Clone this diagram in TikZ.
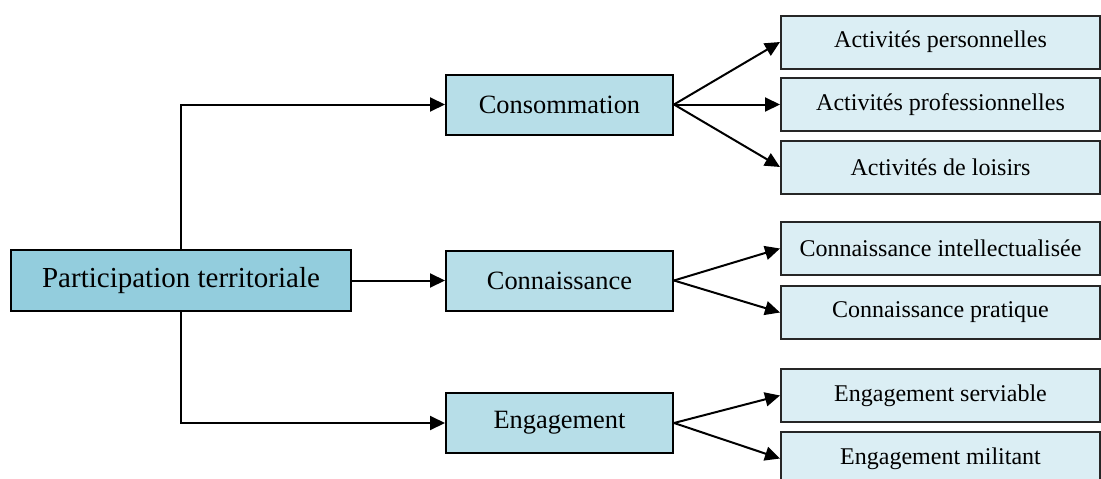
\documentclass[tikz,border=0pt]{standalone}
\usepackage{fontspec}
\setmainfont{Liberation Serif}
\usetikzlibrary{arrows.meta}
\definecolor{cMain}{HTML}{93CDDD}
\definecolor{cMid}{HTML}{B7DEE8}
\definecolor{cLeaf}{HTML}{DBEEF4}
\tikzset{
  mainbox/.style={draw=black, line width=2pt, fill=cMain, minimum width=340pt, minimum height=61pt, inner sep=0pt, font=\fontsize{29}{32}\selectfont},
  midbox/.style={draw=black, line width=2pt, fill=cMid, minimum width=227pt, minimum height=60pt, inner sep=0pt, font=\fontsize{26.4}{30}\selectfont},
  leafbox/.style={draw=black!85, line width=2pt, fill=cLeaf, minimum width=319pt, minimum height=53pt, inner sep=0pt, font=\fontsize{24}{28}\selectfont},
  arr/.style={line width=2pt, -{Triangle[length=15pt,width=14pt]}},
}
\begin{document}
\begin{tikzpicture}[x=1pt,y=-1pt]
\useasboundingbox (0,0) rectangle (1101,479);
\clip (0,0) rectangle (1101,479);
\node[mainbox] (main) at (181,280.5) {Participation territoriale};
\node[midbox] (cons) at (559.5,104.5) {Consommation};
\node[midbox] (conn) at (559.5,280.5) {Connaissance};
\node[midbox] (eng) at (559.5,423) {Engagement};
\node[leafbox] (a1) at (940.5,42) {Activités personnelles};
\node[leafbox] (a2) at (940.5,104.5) {Activités professionnelles};
\node[leafbox] (a3) at (940.5,167) {Activités de loisirs};
\node[leafbox] (c1) at (940.5,248.5) {Connaissance intellectualisée};
\node[leafbox] (c2) at (940.5,312.5) {Connaissance pratique};
\node[leafbox] (e1) at (940.5,395.5) {Engagement serviable};
\node[leafbox] (e2) at (940.5,458.5) {Engagement militant};
\draw[arr] (main.north) |- (cons.west);
\draw[arr] (main.east) -- (conn.west);
\draw[arr] (main.south) |- (eng.west);
\draw[arr] (cons.east) -- (a1.west);
\draw[arr] (cons.east) -- (a2.west);
\draw[arr] (cons.east) -- (a3.west);
\draw[arr] (conn.east) -- (c1.west);
\draw[arr] (conn.east) -- (c2.west);
\draw[arr] (eng.east) -- (e1.west);
\draw[arr] (eng.east) -- (e2.west);
\end{tikzpicture}
\end{document}
